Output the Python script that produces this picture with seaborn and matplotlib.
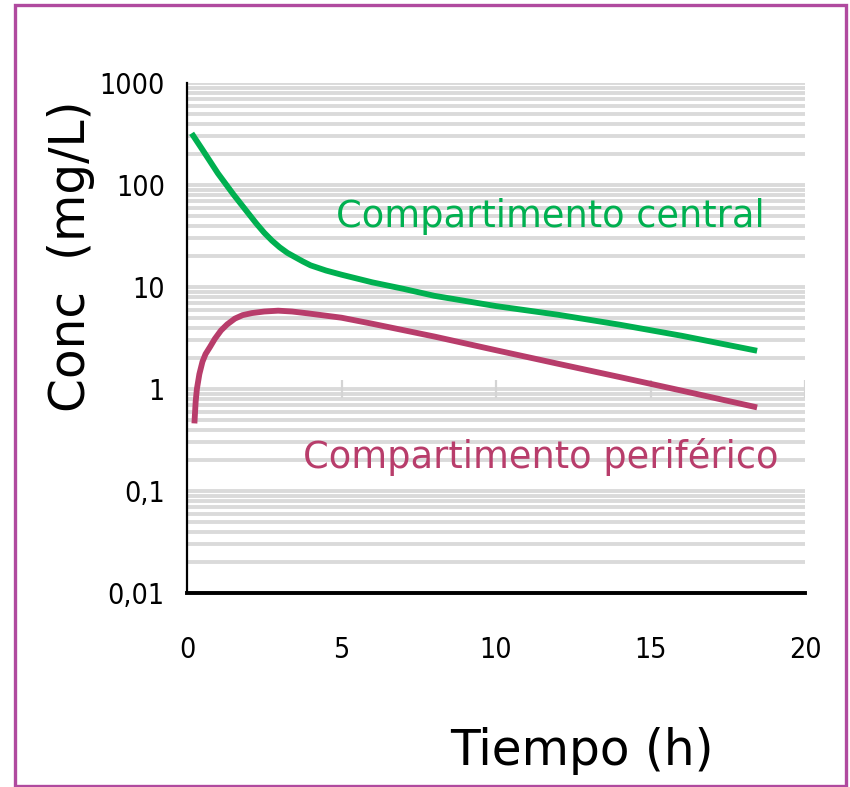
import numpy as np
import pandas as pd
import matplotlib
matplotlib.use("Agg")
import matplotlib.pyplot as plt
from matplotlib.ticker import FixedLocator, LogLocator, NullFormatter
from matplotlib.patches import Rectangle
import seaborn as sns

# Concentration in the central compartment (mg/L) over time (h)
t_central = [0.15, 0.5, 1.0, 1.5, 2.0, 2.25, 2.5, 2.75, 3.0, 3.25, 3.5, 3.75,
             4.0, 4.5, 5.0, 6.0, 7.0, 8.0, 10.0, 12.0, 14.0, 16.0, 18.45]
c_central = [321, 222, 130, 81, 52, 41.7, 34, 28.5, 24.5, 21.6, 19.6, 17.8,
             16.3, 14.5, 13.2, 11.1, 9.6, 8.2, 6.5, 5.35, 4.27, 3.33, 2.37]

# Concentration in the peripheral compartment (mg/L) over time (h)
t_periph = [0.24, 0.28, 0.32, 0.4, 0.5, 0.6, 0.75, 0.9, 1.1, 1.3, 1.55, 1.8,
            2.1, 2.5, 2.95, 3.4, 3.9, 5.0, 6.0, 8.0, 10.0, 12.0, 14.0, 16.0, 18.45]
c_periph = [0.46, 0.75, 1.0, 1.4, 1.85, 2.2, 2.6, 3.1, 3.75, 4.3, 4.9, 5.3,
            5.55, 5.75, 5.86, 5.75, 5.52, 5.0, 4.36, 3.27, 2.4, 1.77, 1.31, 0.965, 0.66]

xticks = [0, 5, 10, 15, 20]
yticks = [0.01, 0.1, 1, 10, 100, 1000]
ytick_labels = ["0,01", "0,1", "1", "10", "100", "1000"]

GREEN = "#00B050"
PINK = "#B83D6B"
GRID = "#dadada"

sns.set_theme(style="white")
plt.rcParams["font.family"] = ["DejaVu Sans"]

fig = plt.figure(figsize=(8.5, 7.87), dpi=100)
ax = fig.add_axes([187 / 850, 1 - 593 / 787, (805 - 187) / 850, (593 - 83) / 787])

df_c = pd.DataFrame({"t": t_central, "c": c_central})
df_p = pd.DataFrame({"t": t_periph, "c": c_periph})
sns.lineplot(data=df_c, x="t", y="c", ax=ax, color=GREEN, lw=4.2, sort=False,
             solid_capstyle="butt", solid_joinstyle="round", zorder=3)
sns.lineplot(data=df_p, x="t", y="c", ax=ax, color=PINK, lw=4.2, sort=False,
             solid_capstyle="butt", solid_joinstyle="round", zorder=3)

ax.set_yscale("log")
ax.set_xlim(xticks[0], xticks[-1])
ax.set_ylim(yticks[0], yticks[-1])

# horizontal bands at every 1..9 multiple of each decade
ax.yaxis.set_major_locator(FixedLocator(yticks))
ax.yaxis.set_minor_locator(LogLocator(base=10, subs=np.arange(2, 10)))
ax.yaxis.set_minor_formatter(NullFormatter())
ax.set_yticklabels(ytick_labels)
ax.set_axisbelow(True)
ax.grid(False)
ax.yaxis.grid(True, which="both", color=GRID, lw=2.8)

ax.set_xticks(xticks)
ax.set_xticklabels([str(v) for v in xticks])

ax.tick_params(axis="y", which="major", length=6, width=2.6, color="black",
               direction="out", pad=10, labelsize=20.5)
ax.tick_params(axis="y", which="minor", length=0)
ax.tick_params(axis="x", which="major", length=0, pad=31, labelsize=20.5)
for lab in ax.get_xticklabels() + ax.get_yticklabels():
    lab.set_fontfamily("DejaVu Sans")
    lab.set_fontstretch("condensed")
    lab.set_color("black")

# small light tick marks where the x axis crosses 1
ax.vlines(xticks[1:], 0.82, 1.22, color="#d4d4d4", lw=1.6, zorder=2)

for side in ("top", "right"):
    ax.spines[side].set_visible(False)
ax.spines["left"].set_linewidth(1.6)
ax.spines["left"].set_color("black")
ax.spines["bottom"].set_linewidth(2.8)
ax.spines["bottom"].set_color("black")

ax.set_xlabel("")
ax.set_ylabel("")

ax.text(11.75, 38.7, "Compartimento central", color=GREEN, fontsize=26.5,
        ha="center", va="baseline")
ax.text(11.44, 0.168, "Compartimento periférico", color=PINK, fontsize=26.5,
        ha="center", va="baseline")

fig.text(71 / 850, 1 - 256 / 787, "Conc  (mg/L)", rotation=90, fontsize=35,
         ha="center", va="center", color="black")
fig.text(582 / 850, 1 - 765 / 787, "Tiempo (h)", fontsize=35,
         ha="center", va="baseline", color="black")

# frame around the figure
fig.patches.append(Rectangle((14.5 / 850, 1.5 / 787), (846 - 14.5) / 850,
                             (782.5 - 1.5) / 787, transform=fig.transFigure,
                             fill=False, edgecolor="#B04A9F", lw=2.4))

fig.savefig("out.png", dpi=100, facecolor="white")
